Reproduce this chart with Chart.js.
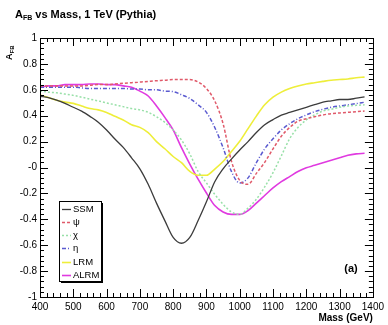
<!DOCTYPE html>
<html>
<head>
<meta charset="utf-8">
<script src="https://cdn.jsdelivr.net/npm/chart.js@4.4.1/dist/chart.umd.min.js"></script>
<style>
  html, body { margin: 0; padding: 0; background: #fff; }
</style>
</head>
<body>
<canvas id="c" width="388" height="325"></canvas>
<script>
'use strict';

// ── Data (A_FB vs dilepton mass) ─────────────────────────────────────────────
const mass = [400, 425, 450, 475, 500, 525, 550, 575, 600, 625,
              650, 675, 700, 725, 750, 775, 800, 825, 850, 875,
              900, 925, 950, 975, 1000, 1025, 1050, 1075, 1100, 1125,
              1150, 1175, 1200, 1225, 1250, 1275, 1300, 1325, 1350, 1375];

const ssm  = [0.55, 0.54, 0.52, 0.495, 0.465, 0.435, 0.395, 0.35, 0.29, 0.22,
              0.155, 0.075, -0.01, -0.13, -0.275, -0.41, -0.54, -0.585, -0.54, -0.41,
              -0.265, -0.11, -0.01, 0.065, 0.135, 0.20, 0.27, 0.33, 0.37, 0.405,
              0.425, 0.445, 0.465, 0.485, 0.505, 0.515, 0.525, 0.525, 0.535, 0.545];
const psi  = [0.63, 0.63, 0.63, 0.63, 0.63, 0.63, 0.635, 0.64, 0.64, 0.645,
              0.65, 0.655, 0.66, 0.665, 0.67, 0.674, 0.679, 0.679, 0.679, 0.66,
              0.61, 0.514, 0.338, 0.05, -0.10, -0.13, -0.045, 0.04, 0.144, 0.241,
              0.309, 0.358, 0.377, 0.392, 0.406, 0.416, 0.421, 0.426, 0.431, 0.436];
const chi  = [0.591, 0.582, 0.577, 0.567, 0.557, 0.543, 0.528, 0.514, 0.499, 0.484,
              0.47, 0.455, 0.445, 0.426, 0.392, 0.348, 0.29, 0.212, 0.105, -0.031,
              -0.119, -0.207, -0.284, -0.343, -0.362, -0.314, -0.245, -0.15, -0.04, 0.09,
              0.222, 0.309, 0.368, 0.406, 0.436, 0.45, 0.465, 0.475, 0.48, 0.484];
const eta  = [0.62, 0.62, 0.62, 0.62, 0.62, 0.615, 0.61, 0.61, 0.61, 0.61,
              0.61, 0.606, 0.606, 0.60, 0.60, 0.59, 0.586, 0.562, 0.533, 0.484,
              0.426, 0.309, 0.153, -0.03, -0.12, -0.08, 0.037, 0.144, 0.222, 0.29,
              0.338, 0.377, 0.406, 0.431, 0.45, 0.465, 0.475, 0.484, 0.494, 0.504];
const lrm  = [0.56, 0.54, 0.52, 0.505, 0.495, 0.475, 0.455, 0.445, 0.425, 0.395,
              0.367, 0.33, 0.31, 0.27, 0.20, 0.145, 0.085, 0.037, -0.03, -0.06,
              -0.06, -0.012, 0.046, 0.124, 0.202, 0.30, 0.397, 0.484, 0.543, 0.582,
              0.61, 0.63, 0.645, 0.655, 0.665, 0.674, 0.679, 0.684, 0.693, 0.698];
const alrm = [0.62, 0.63, 0.63, 0.64, 0.64, 0.64, 0.645, 0.645, 0.64, 0.64,
              0.63, 0.62, 0.59, 0.552, 0.475, 0.387, 0.29, 0.153, 0.027, -0.09,
              -0.197, -0.294, -0.343, -0.362, -0.362, -0.333, -0.275, -0.216, -0.158, -0.109,
              -0.07, -0.031, -0.002, 0.017, 0.037, 0.056, 0.076, 0.095, 0.105, 0.11];

const xTicks = [400, 500, 600, 700, 800, 900, 1000, 1100, 1200, 1300, 1400];
const yTicks = [-1, -0.8, -0.6, -0.4, -0.2, 0, 0.2, 0.4, 0.6, 0.8, 1];
const yTickLabels = ['-1', '-0.8', '-0.6', '-0.4', '-0.2', '-0', '0.2', '0.4', '0.6', '0.8', '1'];

const FONT = "'Liberation Sans', Arial, sans-serif";

const pts = (vals) => mass.map((m, i) => ({ x: m, y: vals[i] }));

const series = [
  { label: 'SSM',  data: ssm,  color: '#3c3c3c', dash: [],           width: 1.3 },
  { label: 'ψ',    data: psi,  color: '#e05a6a', dash: [3, 2],       width: 1.5 },
  { label: 'χ',    data: chi,  color: '#98e0a8', dash: [2, 2],       width: 1.5 },
  { label: 'η',    data: eta,  color: '#5a5ad0', dash: [4, 2, 1, 2], width: 1.5 },
  { label: 'LRM',  data: lrm,  color: '#eeee3a', dash: [],           width: 1.6 },
  { label: 'ALRM', data: alrm, color: '#e03ae0', dash: [],           width: 1.6 },
];

// ── ROOT-style frame, ticks, titles, legend ───────────────────────────────────
const rootDeco = {
  id: 'rootDeco',
  afterDatasetsDraw(chart) {
    const { ctx, chartArea: a, scales: { x, y } } = chart;
    ctx.save();
    ctx.strokeStyle = '#000';
    ctx.lineWidth = 1;
    ctx.strokeRect(Math.round(a.left) + 0.5, Math.round(a.top) + 0.5,
                   Math.round(a.right - a.left), Math.round(a.bottom - a.top));

    ctx.beginPath();
    // y ticks (left + right), minor every 0.04
    for (let k = -25; k <= 25; k++) {
      const py = Math.round(y.getPixelForValue(k * 0.04)) + 0.5;
      const len = k % 5 === 0 ? 8 : 4;
      ctx.moveTo(a.left, py); ctx.lineTo(a.left + len, py);
      ctx.moveTo(a.right, py); ctx.lineTo(a.right - len, py);
    }
    // x ticks (bottom + top), minor every 20
    for (let m = 400; m <= 1400; m += 20) {
      const px = Math.round(x.getPixelForValue(m)) + 0.5;
      const len = m % 100 === 0 ? 8 : 4;
      ctx.moveTo(px, a.bottom); ctx.lineTo(px, a.bottom - len);
      ctx.moveTo(px, a.top); ctx.lineTo(px, a.top + len);
    }
    ctx.stroke();

    // title
    ctx.fillStyle = '#000';
    ctx.textBaseline = 'alphabetic';
    ctx.textAlign = 'left';
    ctx.font = 'bold 11px ' + FONT;
    let tx = 15;
    ctx.fillText('A', tx, 18);
    tx += ctx.measureText('A').width;
    ctx.font = 'bold 7px ' + FONT;
    ctx.fillText('FB', tx, 20);
    tx += ctx.measureText('FB').width;
    ctx.font = 'bold 11px ' + FONT;
    ctx.fillText(' vs Mass, 1 TeV (Pythia)', tx, 18);

    // y axis title
    ctx.save();
    ctx.translate(12, 60);
    ctx.rotate(-Math.PI / 2);
    ctx.font = 'bold 9px ' + FONT;
    ctx.fillText('A', 0, 0);
    const aw = ctx.measureText('A').width;
    ctx.font = 'bold 6px ' + FONT;
    ctx.fillText('FB', aw, 2);
    ctx.restore();

    // x axis title
    ctx.textAlign = 'right';
    ctx.font = 'bold 10px ' + FONT;
    ctx.fillText('Mass (GeV)', a.right, 321);

    // (a)
    ctx.textAlign = 'center';
    ctx.font = 'bold 11px ' + FONT;
    ctx.fillText('(a)', 351, 272);

    // legend box with shadow
    const bx = 59, by = 201, bw = 42, bh = 80;
    ctx.fillStyle = '#000';
    ctx.fillRect(bx + 2, by + 2, bw, bh);
    ctx.fillStyle = '#fff';
    ctx.fillRect(bx, by, bw, bh);
    ctx.strokeRect(bx + 0.5, by + 0.5, bw, bh);
    ctx.textAlign = 'left';
    ctx.textBaseline = 'middle';
    ctx.font = '9.5px ' + FONT;
    chart.data.datasets.forEach((ds, i) => {
      const ly = Math.round(by + 7.5 + i * 13.3) + 0.5;
      ctx.strokeStyle = ds.borderColor;
      ctx.lineWidth = ds.borderWidth;
      ctx.setLineDash(ds.borderDash);
      ctx.beginPath();
      ctx.moveTo(62, ly); ctx.lineTo(71, ly);
      ctx.stroke();
      ctx.setLineDash([]);
      ctx.fillStyle = '#000';
      ctx.fillText(ds.label, 73, ly);
    });
    ctx.restore();
  }
};

new Chart(document.getElementById('c'), {
  type: 'line',
  data: {
    datasets: series.map(s => ({
      label: s.label,
      data: pts(s.data),
      borderColor: s.color,
      borderDash: s.dash,
      borderWidth: s.width,
      pointRadius: 0,
      fill: false,
      cubicInterpolationMode: 'monotone',
    }))
  },
  options: {
    responsive: false,
    animation: false,
    layout: { padding: { top: 38, right: 14, left: 0, bottom: 0 } },
    plugins: { legend: { display: false }, tooltip: { enabled: false } },
    scales: {
      x: {
        type: 'linear', min: 400, max: 1400,
        afterBuildTicks: s => { s.ticks = xTicks.map(v => ({ value: v })); },
        afterFit: s => { s.height = 28; },
        grid: { display: false, drawTicks: false },
        border: { display: false },
        ticks: { color: '#000', font: { size: 10, family: FONT }, padding: 4,
                 maxRotation: 0, autoSkip: false, callback: v => String(v) },
      },
      y: {
        min: -1, max: 1,
        afterBuildTicks: s => { s.ticks = yTicks.map(v => ({ value: v })); },
        afterFit: s => { s.width = 40; },
        grid: { display: false, drawTicks: false },
        border: { display: false },
        ticks: { color: '#000', font: { size: 10, family: FONT }, padding: 3,
                 callback: (v, i) => yTickLabels[i] },
      },
    },
  },
  plugins: [rootDeco],
});
</script>
</body>
</html>
